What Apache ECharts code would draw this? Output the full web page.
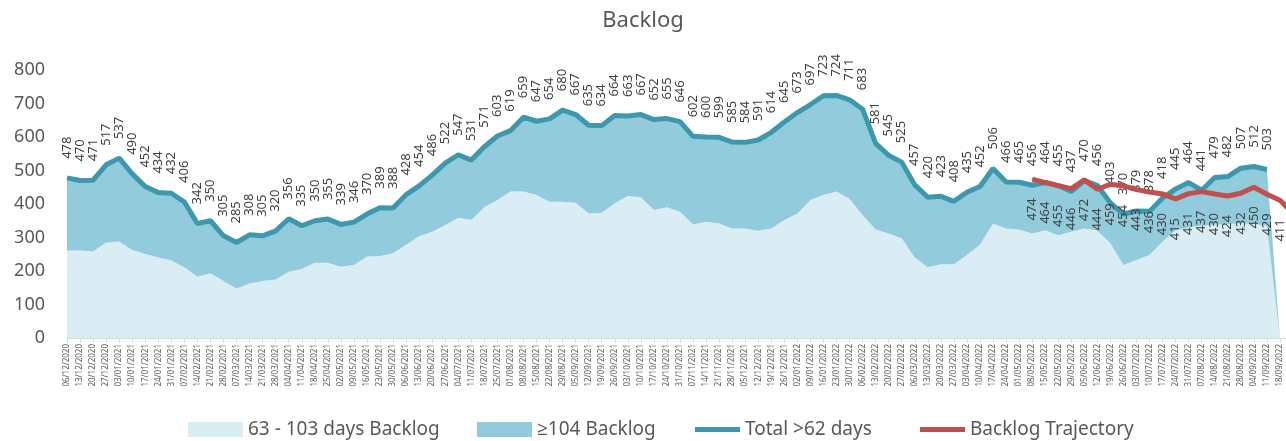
<!DOCTYPE html>
<html>
<head>
<meta charset="utf-8">
<title>Backlog</title>
<script src="https://cdn.jsdelivr.net/npm/echarts@6/dist/echarts.min.js"></script>
<style>
  html, body { margin: 0; padding: 0; background: #fff; }
  #chart { width: 1286px; height: 441px; }
</style>
</head>
<body>
<div id="chart"></div>
<script>
// weekly categories, last one (25/09/2022) sits just off the right edge like in the source
const weeks = [
  '06/12/2020', '13/12/2020', '20/12/2020', '27/12/2020', '03/01/2021', '10/01/2021', '17/01/2021', '24/01/2021',
  '31/01/2021', '07/02/2021', '14/02/2021', '21/02/2021', '28/02/2021', '07/03/2021', '14/03/2021', '21/03/2021',
  '28/03/2021', '04/04/2021', '11/04/2021', '18/04/2021', '25/04/2021', '02/05/2021', '09/05/2021', '16/05/2021',
  '23/05/2021', '30/05/2021', '06/06/2021', '13/06/2021', '20/06/2021', '27/06/2021', '04/07/2021', '11/07/2021',
  '18/07/2021', '25/07/2021', '01/08/2021', '08/08/2021', '15/08/2021', '22/08/2021', '29/08/2021', '05/09/2021',
  '12/09/2021', '19/09/2021', '26/09/2021', '03/10/2021', '10/10/2021', '17/10/2021', '24/10/2021', '31/10/2021',
  '07/11/2021', '14/11/2021', '21/11/2021', '28/11/2021', '05/12/2021', '12/12/2021', '19/12/2021', '26/12/2021',
  '02/01/2022', '09/01/2022', '16/01/2022', '23/01/2022', '30/01/2022', '06/02/2022', '13/02/2022', '20/02/2022',
  '27/02/2022', '06/03/2022', '13/03/2022', '20/03/2022', '27/03/2022', '03/04/2022', '10/04/2022', '17/04/2022',
  '24/04/2022', '01/05/2022', '08/05/2022', '15/05/2022', '22/05/2022', '29/05/2022', '05/06/2022', '12/06/2022',
  '19/06/2022', '26/06/2022', '03/07/2022', '10/07/2022', '17/07/2022', '24/07/2022', '31/07/2022', '07/08/2022',
  '14/08/2022', '21/08/2022', '28/08/2022', '04/09/2022', '11/09/2022', '18/09/2022', '25/09/2022'
]

// 63 - 103 days backlog
const backlog63 = [
  261, 261, 258, 285, 288, 263, 251, 240, 231, 211, 183, 193, 170, 148, 163, 170,
  175, 198, 206, 225, 225, 213, 218, 243, 245, 253, 278, 304, 317, 337, 359, 352,
  390, 412, 437, 437, 427, 407, 407, 404, 372, 374, 402, 424, 420, 382, 390, 377,
  339, 347, 342, 327, 327, 320, 327, 352, 372, 412, 427, 437, 415, 367, 324, 312,
  298, 240, 211, 220, 220, 248, 278, 342, 327, 324, 312, 322, 307, 317, 327, 320,
  283, 218, 233, 248, 288, 322, 330, 335, 338, 340, 342, 340, 335, 0, null
]

// >=104 backlog (height of the darker band)
const backlog104 = [
  217, 209, 213, 232, 249, 227, 201, 194, 201, 195, 159, 157, 135, 137, 145, 135,
  145, 158, 129, 125, 130, 126, 128, 127, 144, 135, 150, 150, 169, 185, 188, 179,
  181, 191, 182, 222, 220, 247, 273, 263, 263, 260, 262, 239, 247, 270, 265, 269,
  263, 253, 257, 258, 257, 271, 287, 293, 301, 285, 296, 287, 296, 316, 257, 233,
  227, 217, 209, 203, 188, 187, 174, 164, 139, 141, 144, 142, 148, 120, 143, 136,
  120, 152, 146, 130, 130, 123, 134, 106, 141, 142, 165, 172, 168, 0, null
]

// total >62 days (labelled values)
const totalBacklog = [
  478, 470, 471, 517, 537, 490, 452, 434, 432, 406, 342, 350, 305, 285, 308, 305,
  320, 356, 335, 350, 355, 339, 346, 370, 389, 388, 428, 454, 486, 522, 547, 531,
  571, 603, 619, 659, 647, 654, 680, 667, 635, 634, 664, 663, 667, 652, 655, 646,
  602, 600, 599, 585, 584, 591, 614, 645, 673, 697, 723, 724, 711, 683, 581, 545,
  525, 457, 420, 423, 408, 435, 452, 506, 466, 465, 456, 464, 455, 437, 470, 456,
  403, 370, 379, 378, 418, 445, 464, 441, 479, 482, 507, 512, 503, null, null
]

// trajectory starts at 08/05/2022
const trajectory = [
  null, null, null, null, null, null, null, null, null, null, null, null, null, null, null, null,
  null, null, null, null, null, null, null, null, null, null, null, null, null, null, null, null,
  null, null, null, null, null, null, null, null, null, null, null, null, null, null, null, null,
  null, null, null, null, null, null, null, null, null, null, null, null, null, null, null, null,
  null, null, null, null, null, null, null, null, null, null, 474, 464, 455, 446, 472, 444,
  459, 454, 443, 436, 430, 415, 431, 437, 430, 424, 432, 450, 429, 411, 372
]

const yTicks = [0, 100, 200, 300, 400, 500, 600, 700, 800]

const font = "'Noto Sans', 'Open Sans', sans-serif"
const grey = '#595959'

const legendBase = {
  top: 415,
  itemGap: 0,
  textStyle: { color: grey, fontSize: 19, fontFamily: font }
}

const option = {
  animation: false,
  backgroundColor: '#ffffff',
  title: {
    text: 'Backlog',
    left: 'center',
    top: 5,
    textStyle: { color: grey, fontSize: 22, fontWeight: 'normal', fontFamily: font }
  },
  legend: [
    Object.assign({}, legendBase, { left: 183, itemWidth: 55, itemHeight: 15, data: [{ name: '63 - 103 days Backlog', icon: 'rect' }] }),
    Object.assign({}, legendBase, { left: 472, itemWidth: 55, itemHeight: 15, data: [{ name: '≥104 Backlog', icon: 'rect' }] }),
    Object.assign({}, legendBase, { left: 690, itemWidth: 45, itemHeight: 5, data: [{ name: 'Total >62 days', icon: 'rect' }] }),
    Object.assign({}, legendBase, { left: 915, itemWidth: 45, itemHeight: 5, data: [{ name: 'Backlog Trajectory', icon: 'rect' }] })
  ],
  grid: {
    left: 67,
    top: 70,
    width: 1226,
    height: 268,
    containLabel: false,
    outerBoundsMode: 'none'
  },
  xAxis: {
    type: 'category',
    boundaryGap: false,
    data: weeks,
    axisLine: { show: true, lineStyle: { color: '#d9d9d9', width: 1 } },
    axisTick: { show: true, length: 5, lineStyle: { color: '#d9d9d9' } },
    axisLabel: {
      interval: 0,
      rotate: 90,
      margin: 6,
      fontSize: 8,
      color: grey,
      fontFamily: font
    },
    splitLine: { show: false }
  },
  yAxis: {
    type: 'value',
    min: yTicks[0],
    max: yTicks[yTicks.length - 1],
    interval: 100,
    axisLine: { show: false },
    axisTick: { show: false },
    splitLine: { show: false },
    axisLabel: { color: grey, fontSize: 18, margin: 22, fontFamily: font }
  },
  series: [
    {
      name: '63 - 103 days Backlog',
      type: 'line',
      stack: 'backlog',
      data: backlog63,
      symbol: 'none',
      lineStyle: { width: 0 },
      itemStyle: { color: '#dbedf4' },
      areaStyle: { color: '#dbedf4', opacity: 1 },
      z: 1
    },
    {
      name: '≥104 Backlog',
      type: 'line',
      stack: 'backlog',
      data: backlog104,
      symbol: 'none',
      lineStyle: { width: 0 },
      itemStyle: { color: '#92cbdc' },
      areaStyle: { color: '#92cbdc', opacity: 1 },
      z: 1
    },
    {
      name: 'Total >62 days',
      type: 'line',
      data: totalBacklog,
      symbol: 'circle',
      symbolSize: 0,
      showSymbol: true,
      showAllSymbol: true,
      connectNulls: false,
      lineStyle: { width: 5, color: '#3d98ae' },
      itemStyle: { color: '#3d98ae' },
      label: {
        show: true,
        position: 'top',
        rotate: 90,
        align: 'left',
        verticalAlign: 'middle',
        distance: 19,
        fontSize: 13,
        color: '#404040',
        fontFamily: font
      },
      z: 3
    },
    {
      name: 'Backlog Trajectory',
      type: 'line',
      data: trajectory,
      symbol: 'circle',
      symbolSize: 0,
      showSymbol: true,
      showAllSymbol: true,
      connectNulls: false,
      lineStyle: { width: 5, color: '#c0504d' },
      itemStyle: { color: '#c0504d' },
      label: {
        show: true,
        position: 'bottom',
        rotate: 90,
        align: 'right',
        verticalAlign: 'middle',
        distance: 19,
        fontSize: 13,
        color: '#404040',
        fontFamily: font
      },
      z: 4
    }
  ]
}

const myChart = echarts.init(document.getElementById('chart'), null, { renderer: 'canvas' })
myChart.setOption(option)
</script>
</body>
</html>
